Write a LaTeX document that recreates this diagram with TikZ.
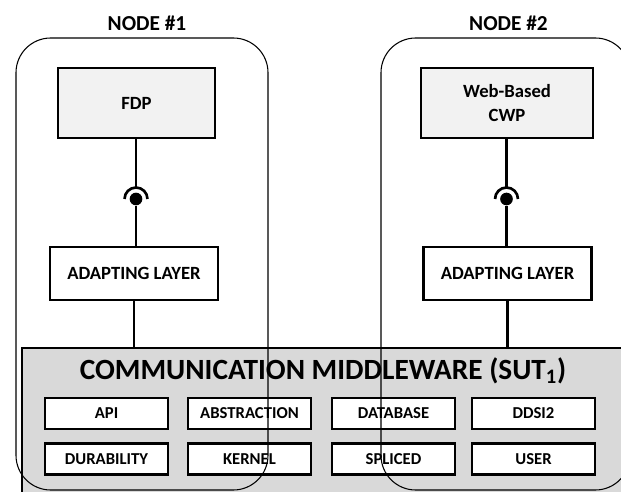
\documentclass[tikz,border=0pt]{standalone}
\usepackage{fontspec}
\setmainfont{Carlito}
\definecolor{appgray}{HTML}{F2F2F2}
\definecolor{mwgray}{HTML}{D9D9D9}
\tikzset{
	box/.style = {draw, line width=2pt, inner sep=0pt, align=center},
	appbox/.style = {box, fill=appgray, minimum height=52.5pt, font=\fontsize{14}{18}\selectfont\bfseries},
	adaptbox/.style = {box, fill=white, minimum width=126pt, minimum height=39.75pt, font=\fontsize{14}{17}\selectfont\bfseries},
	modbox/.style = {box, fill=white, minimum width=92.25pt, minimum height=23.25pt, font=\fontsize{12.5}{15}\selectfont\bfseries},
	wire/.style = {line width=2pt},
	ball/.style = {circle, fill, inner sep=0pt, minimum size=9.5pt},
	group/.style = {draw, line width=0.8pt, rounded corners=26pt, minimum height=339pt},
	grouplabel/.style = {font=\fontsize{16}{19}\selectfont\bfseries}
}
\begin{document}
\begin{tikzpicture}[x = 0.75pt, y = -0.75pt]
	\clip (0,0) rectangle (621,492);
	% applications
	\node[appbox, minimum width=117.75pt] (fdp) at (136.5,103) {FDP};
	\node[appbox, minimum width=129pt] (cwp) at (507,103) {Web-Based\\CWP};
	\node[adaptbox] (adapt1) at (134,273.5) {ADAPTING LAYER};
	\node[adaptbox] (adapt2) at (507.5,273.5) {ADAPTING LAYER};
	% ball and socket
	\node[ball] (ball1) at (136,199) {};
	\node[ball] (ball2) at (506.5,199) {};
	\coordinate (sock1) at (136,187.5);
	\coordinate (sock2) at (506.5,187.5);
	\draw[wire] ([xshift=-8.6pt]ball1.center) arc[start angle=180, end angle=0, radius=8.6pt];
	\draw[wire] ([xshift=-8.6pt]ball2.center) arc[start angle=180, end angle=0, radius=8.6pt];
	\draw[wire] (fdp.south -| sock1) -- (sock1);
	\draw[wire] (cwp.south -| sock2) -- (sock2);
	\draw[wire] (ball1) -- (ball1 |- adapt1.north);
	\draw[wire] (ball2) -- (ball2 |- adapt2.north);
	% middleware
	\node[box, fill=mwgray, minimum width=463.5pt, minimum height=121.5pt] (mw) at (331,429) {};
	\node[font=\fontsize{22}{26}\selectfont\bfseries] (mwtitle) at (323,371) {COMMUNICATION MIDDLEWARE (SUT\textsubscript{1})};
	\draw[wire] (adapt1.south) -- (adapt1.south |- mw.north);
	\draw[wire] (adapt2.south) -- (adapt2.south |- mw.north);
	\node[modbox] (api) at (106.5,413.5) {API};
	\node[modbox] (abstraction) at (249.5,413.5) {ABSTRACTION};
	\node[modbox] (database) at (393.5,413.5) {DATABASE};
	\node[modbox] (ddsi) at (533.5,413.5) {DDSI2};
	\node[modbox] (durability) at (106.5,459) {DURABILITY};
	\node[modbox] (kernel) at (249.5,459) {KERNEL};
	\node[modbox] (spliced) at (393.5,459) {SPLICED};
	\node[modbox] (user) at (533.5,459) {USER};
	% nodes
	\node[group, minimum width=189pt] (node1) at (142,264) {};
	\node[group, minimum width=186.75pt] (node2) at (505.5,264) {};
	\node[grouplabel] (label1) at (147,23) {NODE \#1};
	\node[grouplabel] (label2) at (508.5,23) {NODE \#2};
\end{tikzpicture}
\end{document}
